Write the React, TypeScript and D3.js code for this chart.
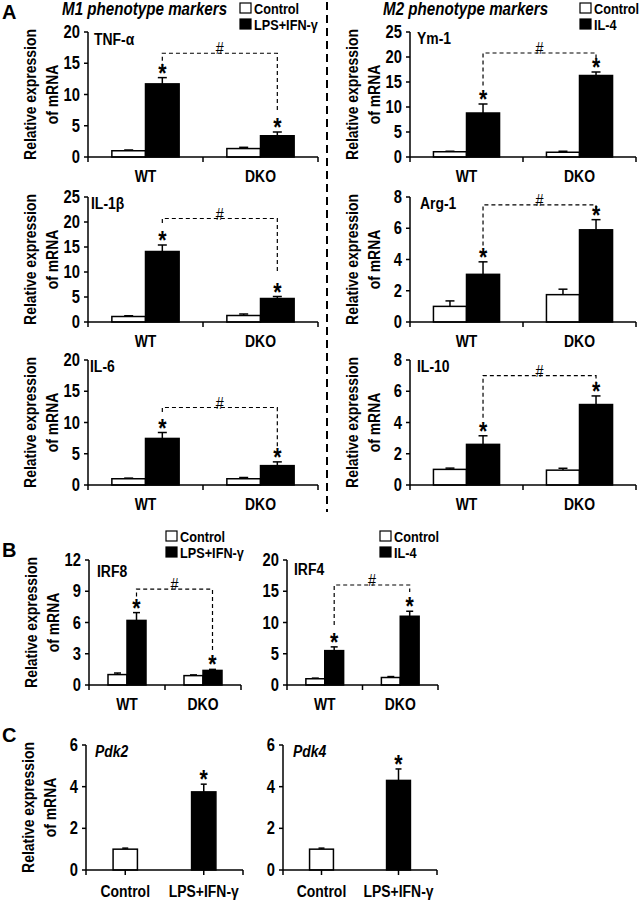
import React from 'react';
import * as d3 from 'd3';

// ---------- data ----------
const genotypes = ['WT', 'DKO'];
const subKeys = ['ctrl', 'trt'];
const m1Legend = ['Control', 'LPS+IFN-γ'];
const m2Legend = ['Control', 'IL-4'];
const cCategories = ['Control', 'LPS+IFN-γ'];

// [yMax, step]
const tnfAxis = [20, 5];
const il1bAxis = [25, 5];
const il6Axis = [20, 5];
const ym1Axis = [25, 5];
const arg1Axis = [8, 2];
const il10Axis = [8, 2];
const irf8Axis = [12, 3];
const irf4Axis = [20, 5];
const pdkAxis = [6, 2];

const tnfControl = [1.0, 1.35];
const tnfControlErr = [0.12, 0.2];
const tnfTreated = [11.7, 3.4];
const tnfTreatedErr = [1.0, 0.6];
const tnfBracket = [16.6, 14.3, 7.5];

const il1bControl = [1.1, 1.3];
const il1bControlErr = [0.15, 0.3];
const il1bTreated = [14.1, 4.7];
const il1bTreatedErr = [1.3, 0.4];
const il1bBracket = [20.7, 19.8, 10.0];

const il6Control = [1.0, 1.0];
const il6ControlErr = [0.1, 0.2];
const il6Treated = [7.45, 3.1];
const il6TreatedErr = [0.95, 0.6];
const il6Bracket = [12.4, 11.7, 5.8];

const ym1Control = [1.05, 0.95];
const ym1ControlErr = [0.1, 0.2];
const ym1Treated = [8.8, 16.3];
const ym1TreatedErr = [1.8, 0.7];
const ym1Bracket = [20.8, 14.3, 19.7];

const arg1Control = [1.0, 1.75];
const arg1ControlErr = [0.35, 0.35];
const arg1Treated = [3.05, 5.9];
const arg1TreatedErr = [0.8, 0.65];
const arg1Bracket = [7.5, 4.9, 7.2];

const il10Control = [1.0, 0.95];
const il10ControlErr = [0.08, 0.12];
const il10Treated = [2.6, 5.15];
const il10TreatedErr = [0.55, 0.55];
const il10Bracket = [7.0, 4.3, 6.6];

const irf8Control = [1.0, 0.9];
const irf8ControlErr = [0.15, 0.07];
const irf8Treated = [6.2, 1.4];
const irf8TreatedErr = [0.75, 0.1];
const irf8Bracket = [9.2, 8.5, 3.2];

const irf4Control = [1.0, 1.2];
const irf4ControlErr = [0.1, 0.15];
const irf4Treated = [5.5, 11.0];
const irf4TreatedErr = [0.6, 0.8];
const irf4Bracket = [16.0, 9.6, 14.9];

const pdk2Values = [1.0, 3.75];
const pdk2Err = [0.05, 0.37];
const pdk4Values = [1.0, 4.3];
const pdk4Err = [0.05, 0.55];

// ---------- styling ----------
const SANS = '"Liberation Sans", Arial, sans-serif';
const SQUEEZE = 0.82;

type TProps = {
  x: number; y: number; size: number; anchor?: string; bold?: boolean; italic?: boolean;
  rotate?: number; sx?: number; family?: string; children: React.ReactNode;
};
function T({ x, y, size, anchor = 'start', bold = true, italic = false, rotate = 0, sx = SQUEEZE, family = SANS, children }: TProps) {
  return (
    <text transform={`translate(${x},${y}) rotate(${rotate}) scale(${sx},1)`} textAnchor={anchor}
      fontFamily={family} fontWeight={bold ? 'bold' : 'normal'} fontStyle={italic ? 'italic' : 'normal'}
      fontSize={size} fill="#000">{children}</text>
  );
}

type Bar = { cat: string; sub: string; value: number; err: number; fill: string; star: boolean };

function pairBars(ctrl: number[], ctrlErr: number[], trt: number[], trtErr: number[]): Bar[] {
  const out: Bar[] = [];
  genotypes.forEach((g, i) => {
    out.push({ cat: g, sub: 'ctrl', value: ctrl[i], err: ctrlErr[i], fill: '#fff', star: false });
    out.push({ cat: g, sub: 'trt', value: trt[i], err: trtErr[i], fill: '#000', star: true });
  });
  return out;
}

function singleBars(vals: number[], errs: number[]): Bar[] {
  return cCategories.map((c, i) => ({
    cat: c, sub: 'v', value: vals[i], err: errs[i], fill: i === 0 ? '#fff' : '#000', star: i === 1,
  }));
}

type PanelProps = {
  x0: number; x1: number; yTop: number; yZero: number;
  axis: number[]; categories: string[]; keys: string[]; bars: Bar[];
  bracket?: number[]; title: string; italic?: boolean; titleDx: number; titleDy: number;
  groupFrac: number; capW: number; centerTicks?: boolean; yLabel?: boolean; labelDy: number;
};

function Panel(p: PanelProps) {
  const [yMax, step] = p.axis;
  const x = d3.scaleBand<string>().domain(p.categories).range([p.x0, p.x1]);
  const bw = x.bandwidth();
  const off = (bw * (1 - p.groupFrac)) / 2;
  const inner = d3.scaleBand<string>().domain(p.keys).range([0, bw * p.groupFrac]);
  const y = d3.scaleLinear().domain([0, yMax]).range([p.yZero, p.yTop]);
  const ticks = d3.range(0, yMax + step / 2, step);
  const barX = (b: Bar) => (x(b.cat) as number) + off + (inner(b.sub) as number);
  const cx = (b: Bar) => barX(b) + inner.bandwidth() / 2;
  const trt = p.bars.filter((b) => b.sub === 'trt');
  const xTicks = p.centerTicks
    ? [p.x0, ...p.categories.map((c) => (x(c) as number) + bw / 2), p.x1]
    : [p.x0, ...p.categories.map((c) => (x(c) as number) + bw)];
  const midY = (p.yTop + p.yZero) / 2;
  return (
    <g>
      {p.yLabel !== false && (
        <g>
          <T x={p.x0 - 52} y={midY} size={17} anchor="middle" rotate={-90}>Relative expression</T>
          <T x={p.x0 - 30} y={midY} size={17} anchor="middle" rotate={-90}>of mRNA</T>
        </g>
      )}
      {p.bars.map((b, i) => (
        <g key={i}>
          <line x1={cx(b)} x2={cx(b)} y1={y(b.value)} y2={y(b.value + b.err)} stroke="#000" strokeWidth={1.5} />
          <line x1={cx(b) - p.capW / 2} x2={cx(b) + p.capW / 2} y1={y(b.value + b.err)} y2={y(b.value + b.err)} stroke="#000" strokeWidth={1.5} />
          <rect x={barX(b)} y={y(b.value)} width={inner.bandwidth()} height={p.yZero - y(b.value)}
            fill={b.fill} stroke="#000" strokeWidth={1.5} />
          {b.star && (
            <T x={cx(b)} y={y(b.value + b.err) + 4} size={26} anchor="middle">*</T>
          )}
        </g>
      ))}
      <line x1={p.x0} x2={p.x0} y1={p.yZero} y2={p.yTop} stroke="#000" strokeWidth={1.5} />
      {ticks.map((t) => (
        <g key={t}>
          <line x1={p.x0 - 4} x2={p.x0} y1={y(t)} y2={y(t)} stroke="#000" strokeWidth={1.5} />
          <T x={p.x0 - 8} y={y(t) + 6} size={18} anchor="end">{t}</T>
        </g>
      ))}
      <line x1={p.x0} x2={p.x1} y1={p.yZero} y2={p.yZero} stroke="#000" strokeWidth={1.5} />
      {xTicks.map((t, i) => (
        <line key={i} x1={t} x2={t} y1={p.yZero} y2={p.yZero + 5} stroke="#000" strokeWidth={1.5} />
      ))}
      {p.categories.map((c) => (
        <T key={c} x={(x(c) as number) + bw / 2} y={p.yZero + p.labelDy} size={17} anchor="middle">{c}</T>
      ))}
      <T x={p.x0 + p.titleDx} y={p.yTop + p.titleDy} size={17} italic={!!p.italic}>{p.title}</T>
      {p.bracket && trt.length === 2 && (
        <g>
          <path d={`M${cx(trt[0])},${y(p.bracket[1])}V${y(p.bracket[0])}H${cx(trt[1])}V${y(p.bracket[2])}`}
            fill="none" stroke="#000" strokeWidth={1.2} strokeDasharray="4,3" />
          <T x={(cx(trt[0]) + cx(trt[1])) / 2} y={y(p.bracket[0]) + 1} size={16} bold={false} sx={0.9} anchor="middle">#</T>
        </g>
      )}
    </g>
  );
}

function Legend({ x, y, labels }: { x: number; y: number; labels: string[] }) {
  return (
    <g>
      {labels.map((l, i) => (
        <g key={l}>
          <rect x={x} y={y + i * 16} width={11} height={10} fill={i === 0 ? '#fff' : '#000'} stroke="#000" strokeWidth={1.2} />
          <T x={x + 14} y={y + i * 16 + 11} size={15.5}>{l}</T>
        </g>
      ))}
    </g>
  );
}

export default function App() {
  const rows = [
    { top: 32, zero: 157 },
    { top: 197, zero: 322 },
    { top: 360, zero: 485 },
  ];
  const L = { x0: 88, x1: 318 };
  const R = { x0: 410, x1: 636 };
  const common = { keys: subKeys, categories: genotypes, groupFrac: 0.585, capW: 9, labelDy: 25 };
  return (
    <svg width={641} height={900} viewBox="0 0 641 900"
      style={{ display: 'block', position: 'absolute', left: 0, top: 0 }}>
      <rect width={641} height={900} fill="#fff" />
      <T x={2} y={19} size={20} sx={1}>A</T>
      <T x={2} y={557} size={20} sx={1}>B</T>
      <T x={2} y={742} size={20} sx={1}>C</T>
      <T x={62} y={15} size={18.5} italic>M1 phenotype markers</T>
      <T x={383} y={15} size={18.5} italic>M2 phenotype markers</T>
      <Legend x={240} y={3} labels={m1Legend} />
      <Legend x={580} y={3} labels={m2Legend} />
      <line x1={327} x2={327} y1={2} y2={512} stroke="#000" strokeWidth={2} strokeDasharray="8,5" />

      <Panel {...common} {...L} yTop={rows[0].top} yZero={rows[0].zero} axis={tnfAxis}
        bars={pairBars(tnfControl, tnfControlErr, tnfTreated, tnfTreatedErr)} bracket={tnfBracket}
        title="TNF-α" titleDx={6} titleDy={13} />
      <Panel {...common} {...L} yTop={rows[1].top} yZero={rows[1].zero} axis={il1bAxis}
        bars={pairBars(il1bControl, il1bControlErr, il1bTreated, il1bTreatedErr)} bracket={il1bBracket}
        title="IL-1β" titleDx={3} titleDy={12} />
      <Panel {...common} {...L} yTop={rows[2].top} yZero={rows[2].zero} axis={il6Axis}
        bars={pairBars(il6Control, il6ControlErr, il6Treated, il6TreatedErr)} bracket={il6Bracket}
        title="IL-6" titleDx={2} titleDy={12} />

      <Panel {...common} {...R} yTop={rows[0].top} yZero={rows[0].zero} axis={ym1Axis}
        bars={pairBars(ym1Control, ym1ControlErr, ym1Treated, ym1TreatedErr)} bracket={ym1Bracket}
        title="Ym-1" titleDx={7} titleDy={12} />
      <Panel {...common} {...R} yTop={rows[1].top} yZero={rows[1].zero} axis={arg1Axis}
        bars={pairBars(arg1Control, arg1ControlErr, arg1Treated, arg1TreatedErr)} bracket={arg1Bracket}
        title="Arg-1" titleDx={10} titleDy={12} />
      <Panel {...common} {...R} yTop={rows[2].top} yZero={rows[2].zero} axis={il10Axis}
        bars={pairBars(il10Control, il10ControlErr, il10Treated, il10TreatedErr)} bracket={il10Bracket}
        title="IL-10" titleDx={7} titleDy={12} />

      <Legend x={166} y={531} labels={m1Legend} />
      <Legend x={380} y={531} labels={m2Legend} />
      <Panel keys={subKeys} categories={genotypes} groupFrac={0.5} capW={7} labelDy={25}
        x0={89} x1={241} yTop={560} yZero={685} axis={irf8Axis}
        bars={pairBars(irf8Control, irf8ControlErr, irf8Treated, irf8TreatedErr)} bracket={irf8Bracket}
        title="IRF8" titleDx={8} titleDy={17} />
      <Panel keys={subKeys} categories={genotypes} groupFrac={0.5} capW={7} labelDy={25}
        x0={287} x1={438} yTop={560} yZero={685} axis={irf4Axis} yLabel={false}
        bars={pairBars(irf4Control, irf4ControlErr, irf4Treated, irf4TreatedErr)} bracket={irf4Bracket}
        title="IRF4" titleDx={7} titleDy={15} />

      <Panel keys={['v']} categories={cCategories} groupFrac={0.31} capW={6} labelDy={27} centerTicks
        x0={86} x1={243} yTop={745} yZero={870} axis={pdkAxis}
        bars={singleBars(pdk2Values, pdk2Err)} title="Pdk2" italic titleDx={9} titleDy={12} />
      <Panel keys={['v']} categories={cCategories} groupFrac={0.31} capW={6} labelDy={27} centerTicks
        x0={283} x1={437} yTop={745} yZero={870} axis={pdkAxis} yLabel={false}
        bars={singleBars(pdk4Values, pdk4Err)} title="Pdk4" italic titleDx={10} titleDy={12} />
    </svg>
  );
}
